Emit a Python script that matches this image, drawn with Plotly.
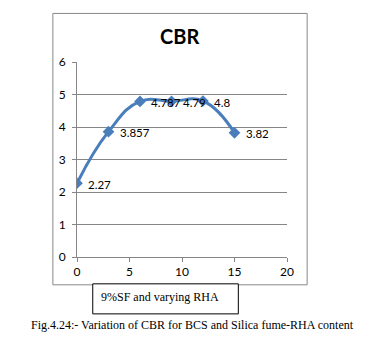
import plotly.graph_objects as go

# CBR values for 9% silica fume with increasing RHA content
rha_content = [0, 3, 6, 9, 12, 15]
cbr_values = [2.27, 3.857, 4.787, 4.79, 4.8, 3.82]
cbr_labels = ["2.27", "3.857", "4.787", "4.79", "4.8", "3.82"]
x_ticks = [0, 5, 10, 15, 20]
y_ticks = [0, 1, 2, 3, 4, 5, 6]

W, H = 378, 340
L, R, T, B = 76.7, 90.7, 62, 83.3
PW, PH = W - L - R, H - T - B


def px(x):
    return (x - L) / PW


def py(y):
    return 1 - (y - T) / PH


blue = "#4a7ebb"
fig = go.Figure()
fig.add_trace(go.Scatter(
    x=rha_content, y=cbr_values,
    mode="lines+markers",
    line=dict(color=blue, width=3, shape="spline", smoothing=1.3),
    marker=dict(symbol="diamond", size=9, color=blue),
    hoverinfo="skip",
))

# value labels beside each point
for xv, yv, txt in zip(rha_content, cbr_values, cbr_labels):
    fig.add_annotation(x=xv, y=yv, text=txt, showarrow=False,
                       xanchor="left", yanchor="middle", xshift=10, yshift=-1,
                       borderpad=0,
                       font=dict(family="Lato", size=11.5, color="#000"))

grid = "#868686"
tick_font = dict(family="Lato", size=12, color="#000")
fig.update_xaxes(range=[0, 20], tickvals=x_ticks, showgrid=False, zeroline=False,
                 showline=True, linecolor=grid, linewidth=1,
                 ticks="outside", ticklen=4, tickcolor=grid,
                 tickfont=tick_font)
fig.update_yaxes(range=[0, 6], tickvals=y_ticks, showgrid=True, gridcolor=grid,
                 gridwidth=1, zeroline=False, showline=True, linecolor=grid,
                 ticks="outside", ticklen=4, tickcolor=grid,
                 ticklabelstandoff=4, tickfont=tick_font)

shapes = [
    # chart frame
    dict(type="rect", xref="paper", yref="paper",
         x0=px(52.5), x1=px(307.5), y0=py(284.5), y1=py(13.5),
         line=dict(color="#888888", width=1), fillcolor="rgba(0,0,0,0)"),
    # caption box for the series description
    dict(type="rect", xref="paper", yref="paper",
         x0=px(92.5), x1=px(238.5), y0=py(313.5), y1=py(283.5),
         line=dict(color="#000", width=1), fillcolor="white"),
]

annotations = [
    dict(xref="paper", yref="paper", x=px(179), y=py(36), text="<b>CBR</b>",
         showarrow=False, xanchor="center", yanchor="middle",
         font=dict(family="Lato", size=20, color="#000")),
    dict(xref="paper", yref="paper", x=px(99), y=py(297), text="9%SF and varying RHA",
         showarrow=False, xanchor="left", yanchor="middle",
         font=dict(family="Liberation Serif", size=12, color="#000")),
    dict(xref="paper", yref="paper", x=px(193), y=py(325),
         text="Fig.4.24:- Variation of CBR for BCS and Silica fume-RHA content",
         showarrow=False, xanchor="center", yanchor="middle",
         font=dict(family="Liberation Serif", size=12, color="#000")),
]

fig.update_layout(
    width=W, height=H,
    margin=dict(l=L, r=R, t=T, b=B),
    paper_bgcolor="white", plot_bgcolor="white",
    showlegend=False,
    shapes=shapes,
)
for a in annotations:
    fig.add_annotation(**a)

fig.write_html("out.html")
